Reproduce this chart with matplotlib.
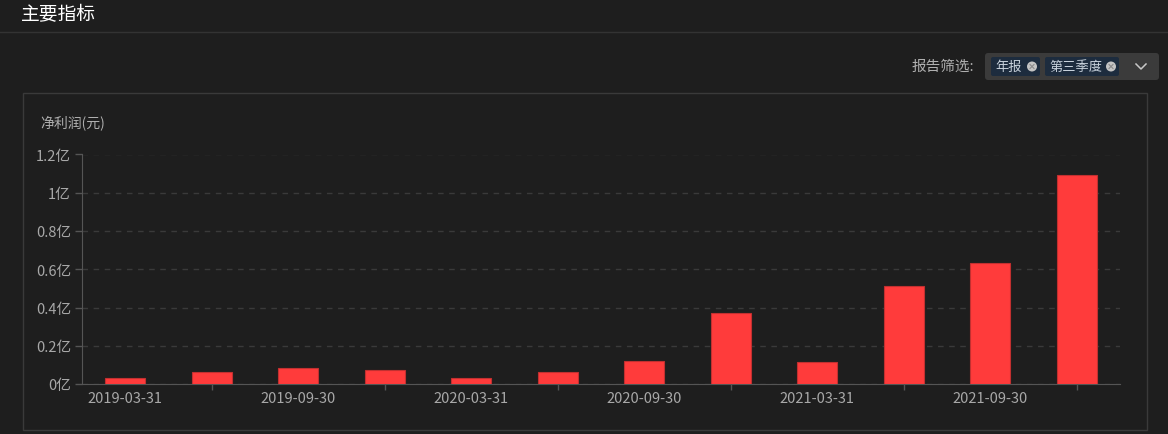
import numpy as np
import matplotlib
matplotlib.use("Agg")
import matplotlib.pyplot as plt
from matplotlib.patches import Rectangle, FancyBboxPatch, Circle

plt.rcParams['font.family'] = ['Noto Sans CJK SC', 'DejaVu Sans']

# data
dates = ["2019-03-31", "2019-06-30", "2019-09-30", "2019-12-31",
         "2020-03-31", "2020-06-30", "2020-09-30", "2020-12-31",
         "2021-03-31", "2021-06-30", "2021-09-30", "2021-12-31"]
net_profit = [0.031e8, 0.061e8, 0.082e8, 0.072e8,
              0.031e8, 0.061e8, 0.121e8, 0.372e8,
              0.113e8, 0.512e8, 0.632e8, 1.092e8]
y_ticks = [0, 0.2e8, 0.4e8, 0.6e8, 0.8e8, 1.0e8, 1.2e8]
y_labels = ["0亿", "0.2亿", "0.4亿", "0.6亿", "0.8亿", "1亿", "1.2亿"]
filter_tags = ["年报", "第三季度"]

W, H = 1168, 435
BG = "#1e1e1e"
fig = plt.figure(figsize=(W / 100, H / 100), dpi=100, facecolor=BG)

# overlay in pixel coords for the page decoration
ui = fig.add_axes([0, 0, 1, 1])
ui.set_xlim(0, W)
ui.set_ylim(H, 0)
ui.axis("off")
ui.set_zorder(0)

ui.text(21, 15, "主要指标", color="white", fontsize=13.5, va="center", ha="left")
ui.plot([0, W], [32.5, 32.5], color="#333333", lw=1)

# filter
ui.text(974, 67, "报告筛选:", color="#b0b0b0", fontsize=10.5, va="center", ha="right")
ui.add_patch(FancyBboxPatch((985, 54), 174, 27, boxstyle="round,pad=0,rounding_size=3",
                            fc="#3b3b3b", ec="none"))
tag_x = [991, 1045]
tag_w = [49, 74]
for tx, tw, label in zip(tag_x, tag_w, filter_tags):
    ui.add_patch(FancyBboxPatch((tx, 58), tw, 19, boxstyle="round,pad=0,rounding_size=2",
                                fc="#1d2c3e", ec="none"))
    ui.text(tx + 4, 67.5, label, color="#c8d2dc", fontsize=9.5, va="center", ha="left")
    cx = tx + tw - 8
    ui.add_patch(Circle((cx, 67.5), 5, fc="#c4c4c4", ec="none"))
    ui.plot([cx - 2, cx + 2], [65.5, 69.5], color="#8a8a8a", lw=0.8)
    ui.plot([cx - 2, cx + 2], [69.5, 65.5], color="#8a8a8a", lw=0.8)
ui.plot([1136, 1141, 1146], [65, 70, 65], color="#c8c8c8", lw=1.1)

# chart panel
ui.add_patch(Rectangle((22.5, 93.5), 1124, 337, fc="none", ec="#3a3a3a", lw=1))
ui.text(40, 123, "净利润(元)", color="#b0b0b0", fontsize=10, va="center", ha="left")

# chart
ax = fig.add_axes([82 / W, 1 - 385 / H, (1120 - 82) / W, (385 - 155.5) / H])
ax.set_facecolor("none")
ax.set_zorder(1)
x = np.arange(len(dates))
ax.bar(x, net_profit, width=0.46, color="#ff3b3b", edgecolor="#c23030", linewidth=0.8, zorder=3)
ax.set_xlim(-0.5, len(dates) - 0.5)
ax.set_ylim(0, 1.2e8)

ax.set_yticks(y_ticks)
ax.set_yticklabels(y_labels)
ax.set_xticks(x[::2])
ax.set_xticklabels(dates[::2])
ax.set_xticks(x[1::2], minor=True)
ax.tick_params(axis="x", which="major", length=0, pad=5, labelcolor="#a8a8a8", labelsize=10.5)
ax.tick_params(axis="x", which="minor", length=4, color="#555555", width=1)
ax.tick_params(axis="y", length=5, color="#555555", width=1, pad=3, labelcolor="#a8a8a8", labelsize=10.5)

ax.grid(axis="y", color="#3a3a3a", linestyle=(0, (4, 4)), lw=1, zorder=0)
for s in ["top", "right"]:
    ax.spines[s].set_visible(False)
ax.spines["left"].set_color("#555555")
ax.spines["bottom"].set_color("#555555")

fig.savefig("out.png", dpi=100, facecolor=BG)
